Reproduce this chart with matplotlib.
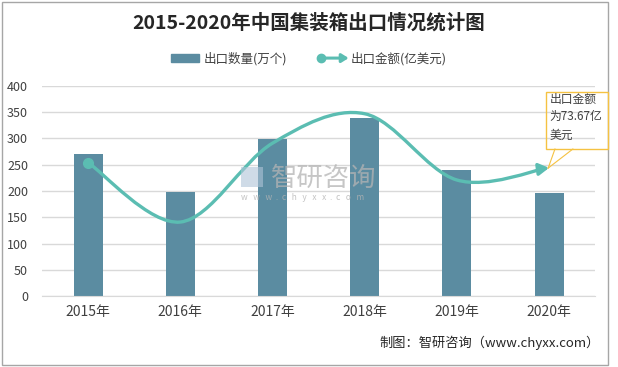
import matplotlib
matplotlib.use("Agg")
import matplotlib.pyplot as plt
from matplotlib.path import Path
from matplotlib.patches import FancyArrowPatch, Patch, Rectangle
from matplotlib.lines import Line2D
from matplotlib.legend_handler import HandlerBase

plt.rcParams['font.family'] = ['Noto Sans CJK SC', 'DejaVu Sans']

years = ["2015年", "2016年", "2017年", "2018年", "2019年", "2020年"]
volume = [271, 198, 299, 339, 240, 196]      # 出口数量(万个)
amount = [254, 141, 291, 347, 221, 244]      # 出口金额 (as drawn)
yticks = [0, 50, 100, 150, 200, 250, 300, 350, 400]

bar_color = '#5b8ca1'
line_color = '#5bbdb2'
grid_color = '#d9d9d9'


class ArrowHandler(HandlerBase):
    # legend key: dot at the start, arrow head at the end
    def create_artists(self, legend, orig, xd, yd, w, h, fontsize, trans):
        y = h / 2 - yd
        arr = FancyArrowPatch((-xd + 2, y), (-xd + w + 4, y),
                              arrowstyle='-|>,head_length=4,head_width=2.5',
                              color=line_color, lw=2.2, transform=trans)
        dot = Line2D([-xd + 2], [y], marker='o', ms=6, color=line_color,
                     transform=trans)
        return [arr, dot]


fig = plt.figure(figsize=(6.18, 3.67), dpi=100)
fig.patches.append(Rectangle((0.003, 0.005), 0.981, 0.99, transform=fig.transFigure,
                             fill=False, edgecolor='#a6a6a6', lw=1))
ax = fig.add_axes([0.068, 0.193, 0.895, 0.573])

x = list(range(len(years)))
ax.bar(x, volume, width=0.315, color=bar_color, zorder=2)

# smoothed line (Catmull-Rom style bezier, like Excel's smoothed line)
pts = list(zip(x, amount))
verts = [pts[0]]
codes = [Path.MOVETO]
for i in range(len(pts) - 1):
    p0 = pts[max(i - 1, 0)]
    p1 = pts[i]
    p2 = pts[i + 1]
    p3 = pts[min(i + 2, len(pts) - 1)]
    c1 = (p1[0] + (p2[0] - p0[0]) / 6, p1[1] + (p2[1] - p0[1]) / 6)
    c2 = (p2[0] - (p3[0] - p1[0]) / 6, p2[1] - (p3[1] - p1[1]) / 6)
    verts += [c1, c2, p2]
    codes += [Path.CURVE4] * 3
curve = FancyArrowPatch(path=Path(verts, codes),
                        arrowstyle='-|>,head_length=6,head_width=3.5',
                        color=line_color, lw=2.4, zorder=3)
ax.add_patch(curve)
ax.plot(x[0], amount[0], 'o', color=line_color, ms=7, zorder=4)

ax.set_xlim(-0.5, 5.5)
ax.set_ylim(0, 400)
ax.set_yticks(yticks)
ax.set_xticks(x)
ax.set_xticklabels(years, fontsize=10, color='#404040')
ax.tick_params(axis='y', labelsize=9, colors='#404040', length=0, pad=10)
ax.tick_params(axis='x', length=0, pad=6)
ax.grid(axis='y', color=grid_color, lw=1, zorder=0)
for s in ['top', 'right', 'left']:
    ax.spines[s].set_visible(False)
ax.spines['bottom'].set_color(grid_color)

# watermark
fig.text(0.438, 0.515, "智研咨询", fontsize=19, color='#b4b4b4', alpha=0.75,
         va='center', zorder=1)
fig.text(0.39, 0.463, "w   w   w  .  c   h   y   x   x  .  c   o   m", fontsize=6,
         color='#b4b4b4', alpha=0.8, va='center', zorder=1)
fig.patches.append(Rectangle((0.39, 0.49), 0.036, 0.055, transform=fig.transFigure,
                             facecolor='#b0c4d8', edgecolor='none', alpha=0.6))

# callout for 2020
fig.text(0.889, 0.748, "出口金额\n为73.67亿\n美元", fontsize=8.5, color='#404040',
         va='top', ha='left', linespacing=1.5)
fig.patches.append(Rectangle((0.884, 0.594), 0.1, 0.155, transform=fig.transFigure,
                             fill=False, edgecolor='#f5c242', lw=1))
for bx in [0.898, 0.927]:
    fig.lines.append(Line2D([bx, 0.887], [0.594, 0.542], transform=fig.transFigure,
                            color='#f5c242', lw=0.8))

fig.suptitle("2015-2020年中国集装箱出口情况统计图", y=0.965, fontsize=14,
             fontweight='bold', color='#262626')

handles = [Patch(color=bar_color), Line2D([], [], color=line_color)]
fig.legend(handles, ["出口数量(万个)", "出口金额(亿美元)"], ncol=2, frameon=False,
           loc='center', bbox_to_anchor=(0.5, 0.84), fontsize=9,
           handler_map={Line2D: ArrowHandler()}, handlelength=2.2,
           columnspacing=2.5, handletextpad=0.4, labelcolor='#404040')

fig.text(0.97, 0.055, "制图：智研咨询（www.chyxx.com）", fontsize=9.5,
         ha='right', color='#262626')

fig.savefig("out.png", dpi=100)
